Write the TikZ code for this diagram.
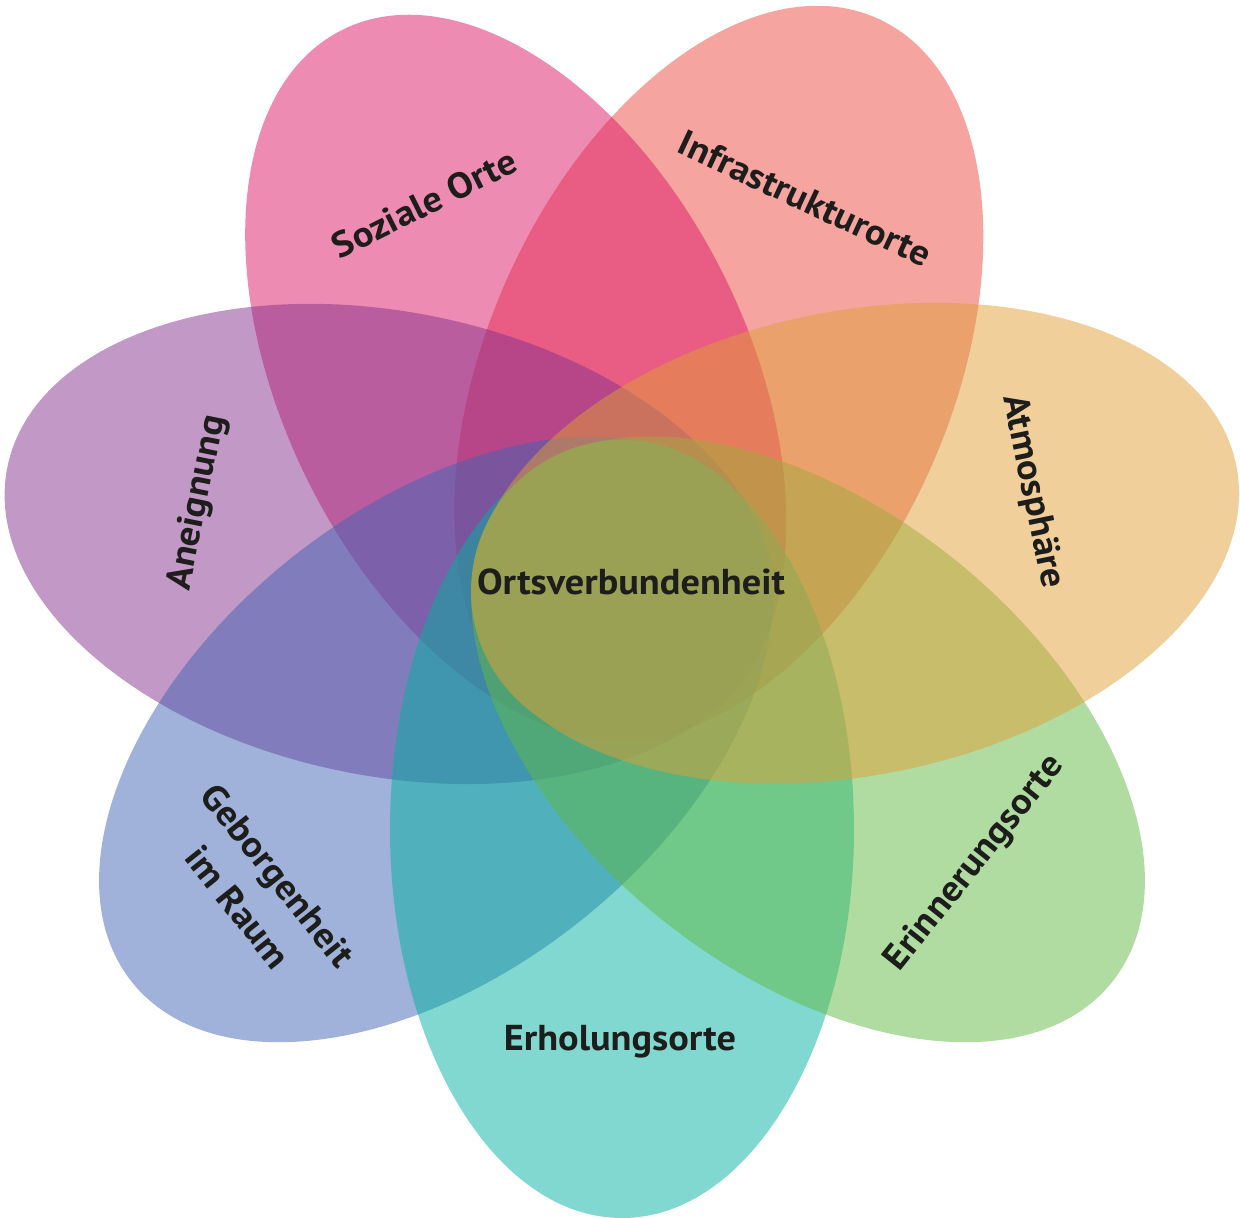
\documentclass[tikz,border=0pt]{standalone}
\usepackage{fontspec}
\setmainfont{PT Sans}[FakeStretch=1.065]
\definecolor{cSalmon}{RGB}{237,73,65}
\definecolor{cPink}{RGB}{221,23,103}
\definecolor{cPurple}{RGB}{133,49,141}
\definecolor{cBlue}{RGB}{65,101,179}
\definecolor{cTeal}{RGB}{1,177,161}
\definecolor{cGreen}{RGB}{97,185,67}
\definecolor{cOchre}{RGB}{225,159,55}
\definecolor{cCore}{RGB}{155,162,86}
\definecolor{cText}{RGB}{29,29,27}
\begin{document}
\begin{tikzpicture}[x=1pt,y=1pt,
  petal/.style={fill=#1, fill opacity=0.5},
  lbl/.style={font=\fontsize{36}{50}\selectfont\bfseries, text=cText, inner sep=0pt, text height=26pt, text depth=0pt},
  lbltwo/.style={font=\fontsize{36}{51}\selectfont\bfseries, text=cText, inner sep=0pt, align=center},
]
\useasboundingbox (-622,-627) rectangle (618,591);
\fill[petal=cSalmon, shift={(66:238pt)}, rotate=66] (0,0) ellipse [x radius=389pt, y radius=232pt];
\fill[petal=cPink, shift={(116.5:238pt)}, rotate=116.5] (0,0) ellipse [x radius=389pt, y radius=232pt];
\fill[petal=cPurple, shift={(168.6:238pt)}, rotate=168.6] (0,0) ellipse [x radius=389pt, y radius=232pt];
\fill[petal=cBlue, shift={(218.57:238pt)}, rotate=218.57] (0,0) ellipse [x radius=389pt, y radius=232pt];
\fill[petal=cTeal, shift={(270:238pt)}, rotate=270] (0,0) ellipse [x radius=389pt, y radius=232pt];
\fill[petal=cGreen, shift={(321.43:238pt)}, rotate=321.43] (0,0) ellipse [x radius=389pt, y radius=232pt];
\fill[petal=cOchre, shift={(11.6:238pt)}, rotate=11.6] (0,0) ellipse [x radius=389pt, y radius=232pt];
\fill[cCore, fill opacity=0.9] (0,0) circle [radius=151pt];
\node[lbl] (core) at (9,9) {Ortsverbundenheit};
\node[lbl, rotate=26.5] (soz) at (-198,388) {Soziale Orte};
\node[lbl, rotate=-25] (inf) at (183,393) {Infrastrukturorte};
\node[lbl, rotate=-78.4] (atm) at (414,100) {Atmosphäre};
\node[lbl, rotate=51.43] (eri) at (350,-270) {Erinnerungsorte};
\node[lbl] (erh) at (-2,-446) {Erholungsorte};
\node[lbltwo, rotate=-51.43] (geb) at (-364,-300) {Geborgenheit\\im Raum};
\node[lbl, rotate=78.6] (ane) at (-428,89) {Aneignung};
\end{tikzpicture}
\end{document}
